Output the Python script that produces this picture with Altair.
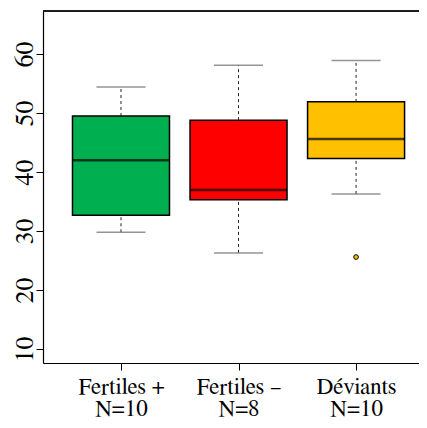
import altair as alt
import pandas as pd

# ---- data ----
groups = ["Fertiles +", "Fertiles –", "Déviants"]
counts = [10, 8, 10]
lower = [29.8, 26.3, 36.3]
q1 = [32.7, 35.3, 42.3]
median = [42.0, 36.95, 45.6]
q3 = [49.5, 48.8, 51.9]
upper = [54.4, 58.1, 58.9]
outlier_group = ["Déviants"]
outlier_value = [25.6]
colors = ["#00B050", "#FF0000", "#FFC000"]
y_ticks = [10, 20, 30, 40, 50, 60]

df = pd.DataFrame({
    "group": groups,
    "pos": list(range(1, len(groups) + 1)),
    "n": counts,
    "lower": lower, "q1": q1, "median": median, "q3": q3, "upper": upper,
})
out = pd.DataFrame({
    "group": outlier_group,
    "pos": [groups.index(g) + 1 for g in outlier_group],
    "value": outlier_value,
})

FONT = "Nimbus Roman, Nimbus Roman No9 L, FreeSerif, Tinos, DejaVu Serif"
W, H = 376, 352

label_expr = " : ".join(
    f"datum.value == {i + 1} ? ['{g}', 'N={n}']" for i, (g, n) in enumerate(zip(groups, counts))
) + " : ''"

xscale = alt.Scale(domain=[0.379, 0.379 + W / 120.75], nice=False, zero=False)
yscale = alt.Scale(domain=[7.64, 67.3], nice=False, zero=False)

x_axis = alt.Axis(
    values=[1, 2, 3], labelExpr=label_expr, title=None, grid=False,
    tickSize=7, tickColor="black", tickWidth=1,
    domainColor="black", domainWidth=1.2,
    labelFont=FONT, labelFontSize=23, labelColor="black",
    labelBaseline="alphabetic", labelPadding=23, labelLineHeight=22,
    labelAlign="center",
)
y_axis = alt.Axis(
    values=y_ticks, title=None, grid=False,
    tickSize=7, tickColor="black", tickWidth=1,
    domainColor="black", domainWidth=1.2,
    labelFont=FONT, labelFontSize=26, labelColor="black",
    labelAngle=270, labelAlign="center", labelBaseline="alphabetic",
    labelPadding=4,
)


def X(field="pos"):
    return alt.X(f"{field}:Q", scale=xscale, axis=x_axis)


def Y(field):
    return alt.Y(f"{field}:Q", scale=yscale, axis=y_axis)


base = alt.Chart(df)
color_scale = alt.Scale(domain=groups, range=colors)

whisk_hi = base.mark_rule(color="#222", strokeDash=[3, 3], strokeWidth=1).encode(
    x=X(), y=Y("q3"), y2="upper:Q")
whisk_lo = base.mark_rule(color="#222", strokeDash=[3, 3], strokeWidth=1).encode(
    x=X(), y=Y("lower"), y2="q1:Q")
cap_hi = base.mark_tick(orient="horizontal", size=49, thickness=1.5, color="#666").encode(
    x=X(), y=Y("upper"))
cap_lo = base.mark_tick(orient="horizontal", size=49, thickness=1.5, color="#666").encode(
    x=X(), y=Y("lower"))
boxes = base.mark_bar(size=97, stroke="black", strokeWidth=1.5).encode(
    x=X(), y=Y("q1"), y2="q3:Q",
    color=alt.Color("group:N", scale=color_scale, legend=None),
)
med = base.mark_tick(orient="horizontal", size=97, thickness=2.5, color="black").encode(
    x=X(), y=Y("median"))
pts = alt.Chart(out).mark_point(filled=True, size=22, stroke="black", strokeWidth=1, opacity=1).encode(
    x=X(), y=Y("value"),
    fill=alt.Fill("group:N", scale=color_scale, legend=None),
)
top = alt.Chart(df).mark_rule(color="black", strokeWidth=1.2).encode(
    x=alt.value(0), x2=alt.value(W), y=alt.value(0))

chart = alt.layer(boxes, whisk_hi, whisk_lo, cap_hi, cap_lo, med, pts, top).properties(
    width=W, height=H,
    autosize=alt.AutoSizeParams(type="none"),
    padding={"left": 35, "top": 3, "right": 0, "bottom": 57},
).configure_view(stroke=None).configure(background="white")

chart.save("out.html", embed_options={"renderer": "svg", "actions": False})
